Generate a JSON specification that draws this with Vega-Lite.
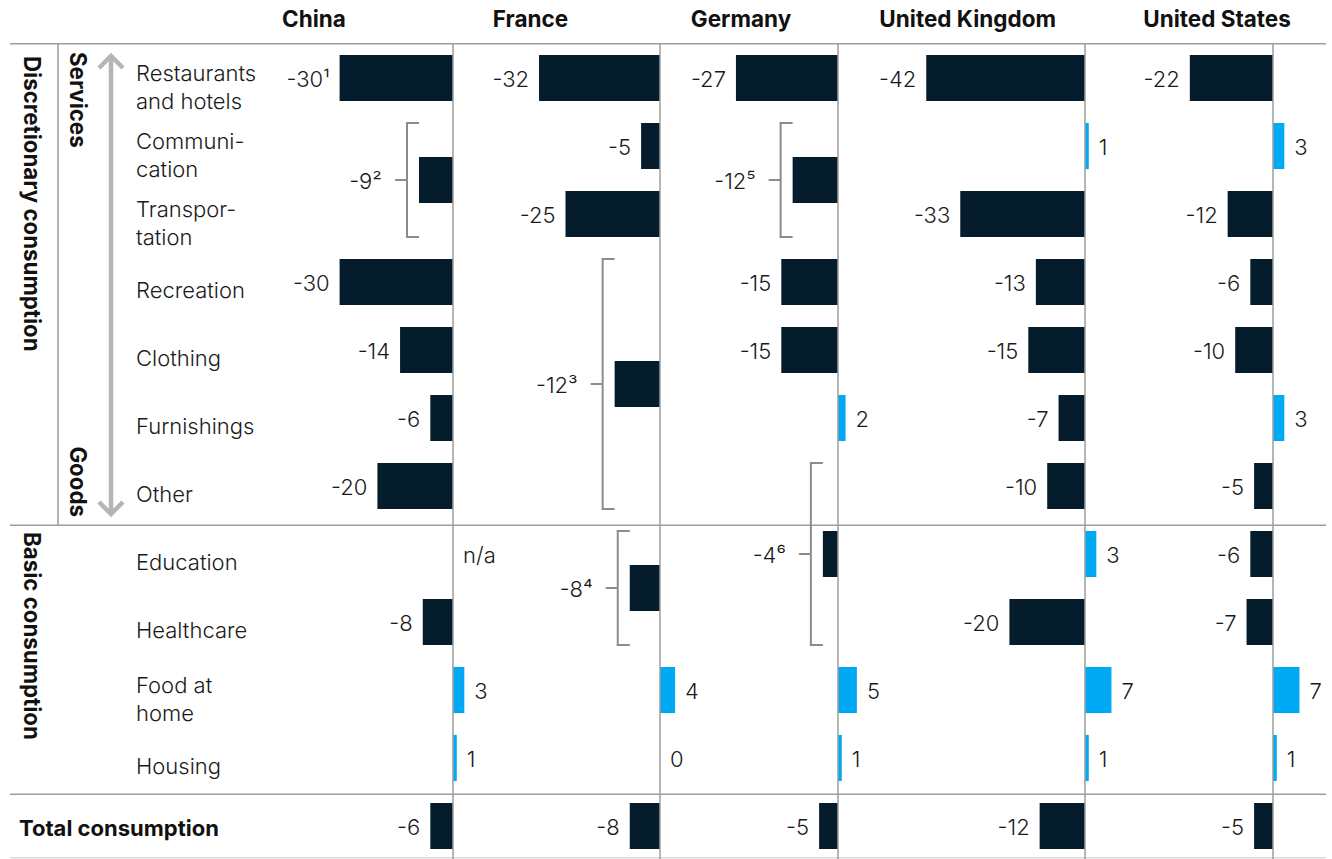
{
  "$schema": "https://vega.github.io/schema/vega-lite/v6.json",
  "padding": {"left": 9, "right": 7, "top": 0, "bottom": 0},
  "bounds": "flush",
  "spacing": 0,
  "config": {
    "view": {"stroke": null},
    "font": "Inter",
    "text": {"font": "Inter", "color": "#1a1a1a"}
  },
  "datasets": {
    "bars": [
      {"country": "China", "item": "Restaurants and hotels", "row": 0, "value": -30, "note": "¹"},
      {"country": "China", "item": "Communication and transportation", "row": 1.5, "from": 1, "to": 2, "value": -9, "note": "²"},
      {"country": "China", "item": "Recreation", "row": 3, "value": -30},
      {"country": "China", "item": "Clothing", "row": 4, "value": -14},
      {"country": "China", "item": "Furnishings", "row": 5, "value": -6},
      {"country": "China", "item": "Other", "row": 6, "value": -20},
      {"country": "China", "item": "Healthcare", "row": 8, "value": -8},
      {"country": "China", "item": "Food at home", "row": 9, "value": 3},
      {"country": "China", "item": "Housing", "row": 10, "value": 1},
      {"country": "China", "item": "Total consumption", "row": 11, "value": -6},

      {"country": "France", "item": "Restaurants and hotels", "row": 0, "value": -32},
      {"country": "France", "item": "Communication", "row": 1, "value": -5},
      {"country": "France", "item": "Transportation", "row": 2, "value": -25},
      {"country": "France", "item": "Recreation to other goods", "row": 4.5, "from": 3, "to": 6, "value": -12, "note": "³"},
      {"country": "France", "item": "Education", "row": 7, "value": null, "status": "n/a"},
      {"country": "France", "item": "Education and healthcare", "row": 7.5, "from": 7, "to": 8, "value": -8, "note": "⁴"},
      {"country": "France", "item": "Food at home", "row": 9, "value": 4},
      {"country": "France", "item": "Housing", "row": 10, "value": 0},
      {"country": "France", "item": "Total consumption", "row": 11, "value": -8},

      {"country": "Germany", "item": "Restaurants and hotels", "row": 0, "value": -27},
      {"country": "Germany", "item": "Communication and transportation", "row": 1.5, "from": 1, "to": 2, "value": -12, "note": "⁵"},
      {"country": "Germany", "item": "Recreation", "row": 3, "value": -15},
      {"country": "Germany", "item": "Clothing", "row": 4, "value": -15},
      {"country": "Germany", "item": "Furnishings", "row": 5, "value": 2},
      {"country": "Germany", "item": "Other, education and healthcare", "row": 7, "from": 6, "to": 8, "value": -4, "note": "⁶"},
      {"country": "Germany", "item": "Food at home", "row": 9, "value": 5},
      {"country": "Germany", "item": "Housing", "row": 10, "value": 1},
      {"country": "Germany", "item": "Total consumption", "row": 11, "value": -5},

      {"country": "United Kingdom", "item": "Restaurants and hotels", "row": 0, "value": -42},
      {"country": "United Kingdom", "item": "Communication", "row": 1, "value": 1},
      {"country": "United Kingdom", "item": "Transportation", "row": 2, "value": -33},
      {"country": "United Kingdom", "item": "Recreation", "row": 3, "value": -13},
      {"country": "United Kingdom", "item": "Clothing", "row": 4, "value": -15},
      {"country": "United Kingdom", "item": "Furnishings", "row": 5, "value": -7},
      {"country": "United Kingdom", "item": "Other", "row": 6, "value": -10},
      {"country": "United Kingdom", "item": "Education", "row": 7, "value": 3},
      {"country": "United Kingdom", "item": "Healthcare", "row": 8, "value": -20},
      {"country": "United Kingdom", "item": "Food at home", "row": 9, "value": 7},
      {"country": "United Kingdom", "item": "Housing", "row": 10, "value": 1},
      {"country": "United Kingdom", "item": "Total consumption", "row": 11, "value": -12},

      {"country": "United States", "item": "Restaurants and hotels", "row": 0, "value": -22},
      {"country": "United States", "item": "Communication", "row": 1, "value": 3},
      {"country": "United States", "item": "Transportation", "row": 2, "value": -12},
      {"country": "United States", "item": "Recreation", "row": 3, "value": -6},
      {"country": "United States", "item": "Clothing", "row": 4, "value": -10},
      {"country": "United States", "item": "Furnishings", "row": 5, "value": 3},
      {"country": "United States", "item": "Other", "row": 6, "value": -5},
      {"country": "United States", "item": "Education", "row": 7, "value": -6},
      {"country": "United States", "item": "Healthcare", "row": 8, "value": -7},
      {"country": "United States", "item": "Food at home", "row": 9, "value": 7},
      {"country": "United States", "item": "Housing", "row": 10, "value": 1},
      {"country": "United States", "item": "Total consumption", "row": 11, "value": -5}
    ],
    "categories": [
      {"row": 0, "label": "Restaurants\nand hotels", "lines": 2},
      {"row": 1, "label": "Communi-\ncation", "lines": 2},
      {"row": 2, "label": "Transpor-\ntation", "lines": 2},
      {"row": 3, "label": "Recreation", "lines": 1},
      {"row": 4, "label": "Clothing", "lines": 1},
      {"row": 5, "label": "Furnishings", "lines": 1},
      {"row": 6, "label": "Other", "lines": 1},
      {"row": 7, "label": "Education", "lines": 1},
      {"row": 8, "label": "Healthcare", "lines": 1},
      {"row": 9, "label": "Food at\nhome", "lines": 2},
      {"row": 10, "label": "Housing", "lines": 1},
      {"row": 11, "label": "Total consumption", "lines": 1}
    ],
    "sections": [
      {"label": "Discretionary consumption", "level": "group", "first": 0, "last": 6},
      {"label": "Basic consumption", "level": "group", "first": 7, "last": 10},
      {"label": "Services", "level": "kind", "first": 0, "last": 2},
      {"label": "Goods", "level": "kind", "first": 3, "last": 6}
    ],
    "seps": [
      {"pos": -0.504, "kind": "rule"},
      {"pos": 6.578, "kind": "rule"},
      {"pos": 10.534, "kind": "rule"},
      {"pos": 11.466, "kind": "base"}
    ],
    "countries": [
      {"country": "China"},
      {"country": "France"},
      {"country": "Germany"},
      {"country": "United Kingdom"},
      {"country": "United States"}
    ]
  },
  "hconcat": [
    {
      "width": 261,
      "height": 859,
      "layer": [
        {
          "data": {"name": "seps"},
          "mark": {"type": "rule", "strokeWidth": 1.5},
          "encoding": {
            "y": {"field": "pos", "type": "quantitative", "scale": {"domain": [-1.1471, 11.4853], "reverse": true, "nice": false, "zero": false, "padding": 0}, "axis": null},
            "color": {"field": "kind", "type": "nominal", "scale": {"domain": ["rule", "base"], "range": ["#9d9d9d", "#dcdcdc"]}, "legend": null}
          }
        },
        {
          "data": {"values": [{}]},
          "mark": {"type": "rule", "strokeWidth": 1.5, "color": "#9d9d9d"},
          "encoding": {
            "x": {"value": 48},
            "y": {"datum": -0.504, "type": "quantitative", "scale": {"domain": [-1.1471, 11.4853], "reverse": true, "nice": false, "zero": false, "padding": 0}, "axis": null},
            "y2": {"datum": 6.578}
          }
        },
        {
          "data": {"values": [{}]},
          "mark": {"type": "rule", "strokeWidth": 4.5, "color": "#b5b5b5"},
          "encoding": {
            "x": {"value": 101},
            "y": {"datum": -0.3, "type": "quantitative", "scale": {"domain": [-1.1471, 11.4853], "reverse": true, "nice": false, "zero": false, "padding": 0}, "axis": null},
            "y2": {"datum": 6.39}
          }
        },
        {
          "data": {"values": [{}]},
          "mark": {"type": "point", "shape": "M-1,1L0,0L1,1", "size": 576, "filled": false, "stroke": "#b5b5b5", "strokeWidth": 4.5, "opacity": 1},
          "encoding": {
            "x": {"value": 101},
            "y": {"datum": -0.3235, "type": "quantitative", "scale": {"domain": [-1.1471, 11.4853], "reverse": true, "nice": false, "zero": false, "padding": 0}, "axis": null}
          }
        },
        {
          "data": {"values": [{}]},
          "mark": {"type": "point", "shape": "M-1,-1L0,0L1,-1", "size": 576, "filled": false, "stroke": "#b5b5b5", "strokeWidth": 4.5, "opacity": 1},
          "encoding": {
            "x": {"value": 101},
            "y": {"datum": 6.412, "type": "quantitative", "scale": {"domain": [-1.1471, 11.4853], "reverse": true, "nice": false, "zero": false, "padding": 0}, "axis": null}
          }
        },
        {
          "data": {"name": "sections"},
          "transform": [{"filter": "datum.level === 'group'"}],
          "mark": {"type": "text", "angle": 90, "align": "left", "baseline": "middle", "dx": -22, "fontSize": 22.3, "fontWeight": 700, "color": "#111111"},
          "encoding": {
            "x": {"value": 21},
            "y": {"field": "first", "type": "quantitative", "scale": {"domain": [-1.1471, 11.4853], "reverse": true, "nice": false, "zero": false, "padding": 0}, "axis": null},
            "text": {"field": "label"}
          }
        },
        {
          "data": {"name": "sections"},
          "transform": [{"filter": "datum.label === 'Services'"}],
          "mark": {"type": "text", "angle": 90, "align": "left", "baseline": "middle", "dx": -26, "fontSize": 22.3, "fontWeight": 700, "color": "#111111"},
          "encoding": {
            "x": {"value": 67},
            "y": {"field": "first", "type": "quantitative", "scale": {"domain": [-1.1471, 11.4853], "reverse": true, "nice": false, "zero": false, "padding": 0}, "axis": null},
            "text": {"field": "label"}
          }
        },
        {
          "data": {"name": "sections"},
          "transform": [{"filter": "datum.label === 'Goods'"}],
          "mark": {"type": "text", "angle": 90, "align": "right", "baseline": "middle", "dx": 31, "fontSize": 22.3, "fontWeight": 700, "color": "#111111"},
          "encoding": {
            "x": {"value": 67},
            "y": {"field": "last", "type": "quantitative", "scale": {"domain": [-1.1471, 11.4853], "reverse": true, "nice": false, "zero": false, "padding": 0}, "axis": null},
            "text": {"field": "label"}
          }
        },
        {
          "data": {"name": "categories"},
          "transform": [{"filter": "datum.row < 11 && datum.lines === 1"}],
          "mark": {"type": "text", "align": "left", "baseline": "middle", "dy": 9, "fontSize": 22, "fontWeight": 300, "color": "#1a1a1a"},
          "encoding": {
            "x": {"value": 126},
            "y": {"field": "row", "type": "quantitative", "scale": {"domain": [-1.1471, 11.4853], "reverse": true, "nice": false, "zero": false, "padding": 0}, "axis": null},
            "text": {"field": "label"}
          }
        },
        {
          "data": {"name": "categories"},
          "transform": [{"filter": "datum.lines === 2"}],
          "mark": {"type": "text", "align": "left", "baseline": "middle", "dy": -4.5, "fontSize": 22, "fontWeight": 300, "lineHeight": 28, "lineBreak": "\n", "color": "#1a1a1a"},
          "encoding": {
            "x": {"value": 126},
            "y": {"field": "row", "type": "quantitative", "scale": {"domain": [-1.1471, 11.4853], "reverse": true, "nice": false, "zero": false, "padding": 0}, "axis": null},
            "text": {"field": "label"}
          }
        },
        {
          "data": {"name": "categories"},
          "transform": [{"filter": "datum.row === 11"}],
          "mark": {"type": "text", "align": "left", "baseline": "middle", "dy": 3, "fontSize": 22, "fontWeight": 700, "color": "#111111"},
          "encoding": {
            "x": {"value": 9},
            "y": {"field": "row", "type": "quantitative", "scale": {"domain": [-1.1471, 11.4853], "reverse": true, "nice": false, "zero": false, "padding": 0}, "axis": null},
            "text": {"field": "label"}
          }
        }
      ]
    },
    {
      "width": 190,
      "height": 859,
      "layer": [
        {"data": {"name": "seps"}, "mark": {"type": "rule", "strokeWidth": 1.5},
         "encoding": {"y": {"field": "pos", "type": "quantitative", "scale": {"domain": [-1.1471, 11.4853], "reverse": true, "nice": false, "zero": false, "padding": 0}, "axis": null},
                      "color": {"field": "kind", "type": "nominal", "scale": {"domain": ["rule", "base"], "range": ["#9d9d9d", "#dcdcdc"]}, "legend": null}}},
        {"data": {"name": "bars"}, "transform": [{"filter": "datum.country === 'China' && isValid(datum.value)"}],
         "mark": {"type": "bar", "orient": "horizontal", "size": 46},
         "encoding": {"x": {"field": "value", "type": "quantitative", "stack": null, "scale": {"domain": [-48.148, 2.116], "nice": false, "zero": false, "padding": 0}, "axis": null},
                      "y": {"field": "row", "type": "quantitative", "scale": {"domain": [-1.1471, 11.4853], "reverse": true, "nice": false, "zero": false, "padding": 0}, "axis": null},
                      "color": {"condition": {"test": "datum.value > 0", "value": "#00a9f4"}, "value": "#051c2c"}}},
        {"data": {"values": [{}]}, "mark": {"type": "rule", "strokeWidth": 1.5, "color": "#9d9d9d"},
         "encoding": {"x": {"datum": 0, "type": "quantitative", "scale": {"domain": [-48.148, 2.116], "nice": false, "zero": false, "padding": 0}, "axis": null},
                      "y": {"datum": -0.504, "type": "quantitative", "scale": {"domain": [-1.1471, 11.4853], "reverse": true, "nice": false, "zero": false, "padding": 0}, "axis": null},
                      "y2": {"datum": 11.4853}}},
        {"data": {"name": "bars"}, "transform": [{"filter": "datum.country === 'China' && isValid(datum.value) && datum.value < 0 && !isValid(datum.from)"}, {"calculate": "datum.value + (isValid(datum.note) ? datum.note : '')", "as": "label"}],
         "mark": {"type": "text", "align": "right", "baseline": "middle", "dx": -10, "dy": 2, "fontSize": 22, "fontWeight": 300},
         "encoding": {"x": {"field": "value", "type": "quantitative", "scale": {"domain": [-48.148, 2.116], "nice": false, "zero": false, "padding": 0}, "axis": null},
                      "y": {"field": "row", "type": "quantitative", "scale": {"domain": [-1.1471, 11.4853], "reverse": true, "nice": false, "zero": false, "padding": 0}, "axis": null},
                      "text": {"field": "label"}}},
        {"data": {"name": "bars"}, "transform": [{"filter": "datum.country === 'China' && isValid(datum.value) && datum.value >= 0"}, {"calculate": "datum.value + (isValid(datum.note) ? datum.note : '')", "as": "label"}],
         "mark": {"type": "text", "align": "left", "baseline": "middle", "dx": 10, "dy": 2, "fontSize": 22, "fontWeight": 300},
         "encoding": {"x": {"field": "value", "type": "quantitative", "scale": {"domain": [-48.148, 2.116], "nice": false, "zero": false, "padding": 0}, "axis": null},
                      "y": {"field": "row", "type": "quantitative", "scale": {"domain": [-1.1471, 11.4853], "reverse": true, "nice": false, "zero": false, "padding": 0}, "axis": null},
                      "text": {"field": "label"}}},
        {"data": {"name": "bars"}, "transform": [{"filter": "datum.country === 'China' && isValid(datum.from)"}, {"calculate": "datum.value + (isValid(datum.note) ? datum.note : '')", "as": "label"}],
         "mark": {"type": "text", "align": "right", "baseline": "middle", "dx": -37, "dy": 2, "fontSize": 22, "fontWeight": 300},
         "encoding": {"x": {"field": "value", "type": "quantitative", "scale": {"domain": [-48.148, 2.116], "nice": false, "zero": false, "padding": 0}, "axis": null},
                      "y": {"field": "row", "type": "quantitative", "scale": {"domain": [-1.1471, 11.4853], "reverse": true, "nice": false, "zero": false, "padding": 0}, "axis": null},
                      "text": {"field": "label"}}},
        {"data": {"name": "bars"}, "transform": [{"filter": "datum.country === 'China' && isValid(datum.from)"}],
         "mark": {"type": "rule", "strokeWidth": 2, "color": "#8c8c8c", "xOffset": -12, "yOffset": -23, "y2Offset": 23},
         "encoding": {"x": {"field": "value", "type": "quantitative", "scale": {"domain": [-48.148, 2.116], "nice": false, "zero": false, "padding": 0}, "axis": null},
                      "y": {"field": "from", "type": "quantitative", "scale": {"domain": [-1.1471, 11.4853], "reverse": true, "nice": false, "zero": false, "padding": 0}, "axis": null},
                      "y2": {"field": "to"}}},
        {"data": {"name": "bars"}, "transform": [{"filter": "datum.country === 'China' && isValid(datum.from)"}],
         "mark": {"type": "rule", "strokeWidth": 2, "color": "#8c8c8c", "xOffset": -13, "x2Offset": 0, "yOffset": -23},
         "encoding": {"x": {"field": "value", "type": "quantitative", "scale": {"domain": [-48.148, 2.116], "nice": false, "zero": false, "padding": 0}, "axis": null},
                      "x2": {"field": "value"},
                      "y": {"field": "from", "type": "quantitative", "scale": {"domain": [-1.1471, 11.4853], "reverse": true, "nice": false, "zero": false, "padding": 0}, "axis": null}}},
        {"data": {"name": "bars"}, "transform": [{"filter": "datum.country === 'China' && isValid(datum.from)"}],
         "mark": {"type": "rule", "strokeWidth": 2, "color": "#8c8c8c", "xOffset": -13, "x2Offset": 0, "yOffset": 23},
         "encoding": {"x": {"field": "value", "type": "quantitative", "scale": {"domain": [-48.148, 2.116], "nice": false, "zero": false, "padding": 0}, "axis": null},
                      "x2": {"field": "value"},
                      "y": {"field": "to", "type": "quantitative", "scale": {"domain": [-1.1471, 11.4853], "reverse": true, "nice": false, "zero": false, "padding": 0}, "axis": null}}},
        {"data": {"name": "bars"}, "transform": [{"filter": "datum.country === 'China' && isValid(datum.from)"}],
         "mark": {"type": "rule", "strokeWidth": 2, "color": "#8c8c8c", "xOffset": -24, "x2Offset": -12},
         "encoding": {"x": {"field": "value", "type": "quantitative", "scale": {"domain": [-48.148, 2.116], "nice": false, "zero": false, "padding": 0}, "axis": null},
                      "x2": {"field": "value"},
                      "y": {"field": "row", "type": "quantitative", "scale": {"domain": [-1.1471, 11.4853], "reverse": true, "nice": false, "zero": false, "padding": 0}, "axis": null}}},
        {"data": {"name": "countries"}, "transform": [{"filter": "datum.country === 'China'"}],
         "mark": {"type": "text", "align": "center", "baseline": "middle", "fontSize": 22.5, "fontWeight": 700, "color": "#111111"},
         "encoding": {"x": {"datum": -36.77, "type": "quantitative", "scale": {"domain": [-48.148, 2.116], "nice": false, "zero": false, "padding": 0}, "axis": null},
                      "y": {"datum": -0.846, "type": "quantitative", "scale": {"domain": [-1.1471, 11.4853], "reverse": true, "nice": false, "zero": false, "padding": 0}, "axis": null},
                      "text": {"field": "country"}}}
      ]
    },
    {
      "width": 220,
      "height": 859,
      "layer": [
        {"data": {"name": "seps"}, "mark": {"type": "rule", "strokeWidth": 1.5},
         "encoding": {"y": {"field": "pos", "type": "quantitative", "scale": {"domain": [-1.1471, 11.4853], "reverse": true, "nice": false, "zero": false, "padding": 0}, "axis": null},
                      "color": {"field": "kind", "type": "nominal", "scale": {"domain": ["rule", "base"], "range": ["#9d9d9d", "#dcdcdc"]}, "legend": null}}},
        {"data": {"name": "bars"}, "transform": [{"filter": "datum.country === 'France' && isValid(datum.value)"}],
         "mark": {"type": "bar", "orient": "horizontal", "size": 46},
         "encoding": {"x": {"field": "value", "type": "quantitative", "stack": null, "scale": {"domain": [-52.646, 5.556], "nice": false, "zero": false, "padding": 0}, "axis": null},
                      "y": {"field": "row", "type": "quantitative", "scale": {"domain": [-1.1471, 11.4853], "reverse": true, "nice": false, "zero": false, "padding": 0}, "axis": null},
                      "color": {"condition": {"test": "datum.value > 0", "value": "#00a9f4"}, "value": "#051c2c"}}},
        {"data": {"values": [{}]}, "mark": {"type": "rule", "strokeWidth": 1.5, "color": "#9d9d9d"},
         "encoding": {"x": {"datum": 0, "type": "quantitative", "scale": {"domain": [-52.646, 5.556], "nice": false, "zero": false, "padding": 0}, "axis": null},
                      "y": {"datum": -0.504, "type": "quantitative", "scale": {"domain": [-1.1471, 11.4853], "reverse": true, "nice": false, "zero": false, "padding": 0}, "axis": null},
                      "y2": {"datum": 11.4853}}},
        {"data": {"name": "bars"}, "transform": [{"filter": "datum.country === 'France' && isValid(datum.value) && datum.value < 0 && !isValid(datum.from)"}, {"calculate": "datum.value + (isValid(datum.note) ? datum.note : '')", "as": "label"}],
         "mark": {"type": "text", "align": "right", "baseline": "middle", "dx": -10, "dy": 2, "fontSize": 22, "fontWeight": 300},
         "encoding": {"x": {"field": "value", "type": "quantitative", "scale": {"domain": [-52.646, 5.556], "nice": false, "zero": false, "padding": 0}, "axis": null},
                      "y": {"field": "row", "type": "quantitative", "scale": {"domain": [-1.1471, 11.4853], "reverse": true, "nice": false, "zero": false, "padding": 0}, "axis": null},
                      "text": {"field": "label"}}},
        {"data": {"name": "bars"}, "transform": [{"filter": "datum.country === 'France' && isValid(datum.value) && datum.value >= 0"}, {"calculate": "datum.value + (isValid(datum.note) ? datum.note : '')", "as": "label"}],
         "mark": {"type": "text", "align": "left", "baseline": "middle", "dx": 10, "dy": 2, "fontSize": 22, "fontWeight": 300},
         "encoding": {"x": {"field": "value", "type": "quantitative", "scale": {"domain": [-52.646, 5.556], "nice": false, "zero": false, "padding": 0}, "axis": null},
                      "y": {"field": "row", "type": "quantitative", "scale": {"domain": [-1.1471, 11.4853], "reverse": true, "nice": false, "zero": false, "padding": 0}, "axis": null},
                      "text": {"field": "label"}}},
        {"data": {"name": "bars"}, "transform": [{"filter": "datum.country === 'France' && isValid(datum.from)"}, {"calculate": "datum.value + (isValid(datum.note) ? datum.note : '')", "as": "label"}],
         "mark": {"type": "text", "align": "right", "baseline": "middle", "dx": -37, "dy": 2, "fontSize": 22, "fontWeight": 300},
         "encoding": {"x": {"field": "value", "type": "quantitative", "scale": {"domain": [-52.646, 5.556], "nice": false, "zero": false, "padding": 0}, "axis": null},
                      "y": {"field": "row", "type": "quantitative", "scale": {"domain": [-1.1471, 11.4853], "reverse": true, "nice": false, "zero": false, "padding": 0}, "axis": null},
                      "text": {"field": "label"}}},
        {"data": {"name": "bars"}, "transform": [{"filter": "datum.country === 'France' && isValid(datum.from)"}],
         "mark": {"type": "rule", "strokeWidth": 2, "color": "#8c8c8c", "xOffset": -12, "yOffset": -23, "y2Offset": 23},
         "encoding": {"x": {"field": "value", "type": "quantitative", "scale": {"domain": [-52.646, 5.556], "nice": false, "zero": false, "padding": 0}, "axis": null},
                      "y": {"field": "from", "type": "quantitative", "scale": {"domain": [-1.1471, 11.4853], "reverse": true, "nice": false, "zero": false, "padding": 0}, "axis": null},
                      "y2": {"field": "to"}}},
        {"data": {"name": "bars"}, "transform": [{"filter": "datum.country === 'France' && isValid(datum.from)"}],
         "mark": {"type": "rule", "strokeWidth": 2, "color": "#8c8c8c", "xOffset": -13, "x2Offset": 0, "yOffset": -23},
         "encoding": {"x": {"field": "value", "type": "quantitative", "scale": {"domain": [-52.646, 5.556], "nice": false, "zero": false, "padding": 0}, "axis": null},
                      "x2": {"field": "value"},
                      "y": {"field": "from", "type": "quantitative", "scale": {"domain": [-1.1471, 11.4853], "reverse": true, "nice": false, "zero": false, "padding": 0}, "axis": null}}},
        {"data": {"name": "bars"}, "transform": [{"filter": "datum.country === 'France' && isValid(datum.from)"}],
         "mark": {"type": "rule", "strokeWidth": 2, "color": "#8c8c8c", "xOffset": -13, "x2Offset": 0, "yOffset": 23},
         "encoding": {"x": {"field": "value", "type": "quantitative", "scale": {"domain": [-52.646, 5.556], "nice": false, "zero": false, "padding": 0}, "axis": null},
                      "x2": {"field": "value"},
                      "y": {"field": "to", "type": "quantitative", "scale": {"domain": [-1.1471, 11.4853], "reverse": true, "nice": false, "zero": false, "padding": 0}, "axis": null}}},
        {"data": {"name": "bars"}, "transform": [{"filter": "datum.country === 'France' && isValid(datum.from)"}],
         "mark": {"type": "rule", "strokeWidth": 2, "color": "#8c8c8c", "xOffset": -24, "x2Offset": -12},
         "encoding": {"x": {"field": "value", "type": "quantitative", "scale": {"domain": [-52.646, 5.556], "nice": false, "zero": false, "padding": 0}, "axis": null},
                      "x2": {"field": "value"},
                      "y": {"field": "row", "type": "quantitative", "scale": {"domain": [-1.1471, 11.4853], "reverse": true, "nice": false, "zero": false, "padding": 0}, "axis": null}}},
        {"data": {"name": "bars"}, "transform": [{"filter": "datum.country === 'France' && isValid(datum.status)"}],
         "mark": {"type": "text", "align": "left", "baseline": "middle", "dy": 2, "fontSize": 22, "fontWeight": 300},
         "encoding": {"x": {"datum": -52.1, "type": "quantitative", "scale": {"domain": [-52.646, 5.556], "nice": false, "zero": false, "padding": 0}, "axis": null},
                      "y": {"field": "row", "type": "quantitative", "scale": {"domain": [-1.1471, 11.4853], "reverse": true, "nice": false, "zero": false, "padding": 0}, "axis": null},
                      "text": {"field": "status"}}},
        {"data": {"name": "countries"}, "transform": [{"filter": "datum.country === 'France'"}],
         "mark": {"type": "text", "align": "center", "baseline": "middle", "fontSize": 22.5, "fontWeight": 700, "color": "#111111"},
         "encoding": {"x": {"datum": -34.26, "type": "quantitative", "scale": {"domain": [-52.646, 5.556], "nice": false, "zero": false, "padding": 0}, "axis": null},
                      "y": {"datum": -0.846, "type": "quantitative", "scale": {"domain": [-1.1471, 11.4853], "reverse": true, "nice": false, "zero": false, "padding": 0}, "axis": null},
                      "text": {"field": "country"}}}
      ]
    },
    {
      "width": 180,
      "height": 859,
      "layer": [
        {"data": {"name": "seps"}, "mark": {"type": "rule", "strokeWidth": 1.5},
         "encoding": {"y": {"field": "pos", "type": "quantitative", "scale": {"domain": [-1.1471, 11.4853], "reverse": true, "nice": false, "zero": false, "padding": 0}, "axis": null},
                      "color": {"field": "kind", "type": "nominal", "scale": {"domain": ["rule", "base"], "range": ["#9d9d9d", "#dcdcdc"]}, "legend": null}}},
        {"data": {"name": "bars"}, "transform": [{"filter": "datum.country === 'Germany' && isValid(datum.value)"}],
         "mark": {"type": "bar", "orient": "horizontal", "size": 46},
         "encoding": {"x": {"field": "value", "type": "quantitative", "stack": null, "scale": {"domain": [-41.534, 6.085], "nice": false, "zero": false, "padding": 0}, "axis": null},
                      "y": {"field": "row", "type": "quantitative", "scale": {"domain": [-1.1471, 11.4853], "reverse": true, "nice": false, "zero": false, "padding": 0}, "axis": null},
                      "color": {"condition": {"test": "datum.value > 0", "value": "#00a9f4"}, "value": "#051c2c"}}},
        {"data": {"values": [{}]}, "mark": {"type": "rule", "strokeWidth": 1.5, "color": "#9d9d9d"},
         "encoding": {"x": {"datum": 0, "type": "quantitative", "scale": {"domain": [-41.534, 6.085], "nice": false, "zero": false, "padding": 0}, "axis": null},
                      "y": {"datum": -0.504, "type": "quantitative", "scale": {"domain": [-1.1471, 11.4853], "reverse": true, "nice": false, "zero": false, "padding": 0}, "axis": null},
                      "y2": {"datum": 11.4853}}},
        {"data": {"name": "bars"}, "transform": [{"filter": "datum.country === 'Germany' && isValid(datum.value) && datum.value < 0 && !isValid(datum.from)"}, {"calculate": "datum.value + (isValid(datum.note) ? datum.note : '')", "as": "label"}],
         "mark": {"type": "text", "align": "right", "baseline": "middle", "dx": -10, "dy": 2, "fontSize": 22, "fontWeight": 300},
         "encoding": {"x": {"field": "value", "type": "quantitative", "scale": {"domain": [-41.534, 6.085], "nice": false, "zero": false, "padding": 0}, "axis": null},
                      "y": {"field": "row", "type": "quantitative", "scale": {"domain": [-1.1471, 11.4853], "reverse": true, "nice": false, "zero": false, "padding": 0}, "axis": null},
                      "text": {"field": "label"}}},
        {"data": {"name": "bars"}, "transform": [{"filter": "datum.country === 'Germany' && isValid(datum.value) && datum.value >= 0"}, {"calculate": "datum.value + (isValid(datum.note) ? datum.note : '')", "as": "label"}],
         "mark": {"type": "text", "align": "left", "baseline": "middle", "dx": 10, "dy": 2, "fontSize": 22, "fontWeight": 300},
         "encoding": {"x": {"field": "value", "type": "quantitative", "scale": {"domain": [-41.534, 6.085], "nice": false, "zero": false, "padding": 0}, "axis": null},
                      "y": {"field": "row", "type": "quantitative", "scale": {"domain": [-1.1471, 11.4853], "reverse": true, "nice": false, "zero": false, "padding": 0}, "axis": null},
                      "text": {"field": "label"}}},
        {"data": {"name": "bars"}, "transform": [{"filter": "datum.country === 'Germany' && isValid(datum.from)"}, {"calculate": "datum.value + (isValid(datum.note) ? datum.note : '')", "as": "label"}],
         "mark": {"type": "text", "align": "right", "baseline": "middle", "dx": -37, "dy": 2, "fontSize": 22, "fontWeight": 300},
         "encoding": {"x": {"field": "value", "type": "quantitative", "scale": {"domain": [-41.534, 6.085], "nice": false, "zero": false, "padding": 0}, "axis": null},
                      "y": {"field": "row", "type": "quantitative", "scale": {"domain": [-1.1471, 11.4853], "reverse": true, "nice": false, "zero": false, "padding": 0}, "axis": null},
                      "text": {"field": "label"}}},
        {"data": {"name": "bars"}, "transform": [{"filter": "datum.country === 'Germany' && isValid(datum.from)"}],
         "mark": {"type": "rule", "strokeWidth": 2, "color": "#8c8c8c", "xOffset": -12, "yOffset": -23, "y2Offset": 23},
         "encoding": {"x": {"field": "value", "type": "quantitative", "scale": {"domain": [-41.534, 6.085], "nice": false, "zero": false, "padding": 0}, "axis": null},
                      "y": {"field": "from", "type": "quantitative", "scale": {"domain": [-1.1471, 11.4853], "reverse": true, "nice": false, "zero": false, "padding": 0}, "axis": null},
                      "y2": {"field": "to"}}},
        {"data": {"name": "bars"}, "transform": [{"filter": "datum.country === 'Germany' && isValid(datum.from)"}],
         "mark": {"type": "rule", "strokeWidth": 2, "color": "#8c8c8c", "xOffset": -13, "x2Offset": 0, "yOffset": -23},
         "encoding": {"x": {"field": "value", "type": "quantitative", "scale": {"domain": [-41.534, 6.085], "nice": false, "zero": false, "padding": 0}, "axis": null},
                      "x2": {"field": "value"},
                      "y": {"field": "from", "type": "quantitative", "scale": {"domain": [-1.1471, 11.4853], "reverse": true, "nice": false, "zero": false, "padding": 0}, "axis": null}}},
        {"data": {"name": "bars"}, "transform": [{"filter": "datum.country === 'Germany' && isValid(datum.from)"}],
         "mark": {"type": "rule", "strokeWidth": 2, "color": "#8c8c8c", "xOffset": -13, "x2Offset": 0, "yOffset": 23},
         "encoding": {"x": {"field": "value", "type": "quantitative", "scale": {"domain": [-41.534, 6.085], "nice": false, "zero": false, "padding": 0}, "axis": null},
                      "x2": {"field": "value"},
                      "y": {"field": "to", "type": "quantitative", "scale": {"domain": [-1.1471, 11.4853], "reverse": true, "nice": false, "zero": false, "padding": 0}, "axis": null}}},
        {"data": {"name": "bars"}, "transform": [{"filter": "datum.country === 'Germany' && isValid(datum.from)"}],
         "mark": {"type": "rule", "strokeWidth": 2, "color": "#8c8c8c", "xOffset": -24, "x2Offset": -12},
         "encoding": {"x": {"field": "value", "type": "quantitative", "scale": {"domain": [-41.534, 6.085], "nice": false, "zero": false, "padding": 0}, "axis": null},
                      "x2": {"field": "value"},
                      "y": {"field": "row", "type": "quantitative", "scale": {"domain": [-1.1471, 11.4853], "reverse": true, "nice": false, "zero": false, "padding": 0}, "axis": null}}},
        {"data": {"name": "countries"}, "transform": [{"filter": "datum.country === 'Germany'"}],
         "mark": {"type": "text", "align": "center", "baseline": "middle", "fontSize": 22.5, "fontWeight": 700, "color": "#111111"},
         "encoding": {"x": {"datum": -25.66, "type": "quantitative", "scale": {"domain": [-41.534, 6.085], "nice": false, "zero": false, "padding": 0}, "axis": null},
                      "y": {"datum": -0.846, "type": "quantitative", "scale": {"domain": [-1.1471, 11.4853], "reverse": true, "nice": false, "zero": false, "padding": 0}, "axis": null},
                      "text": {"field": "country"}}}
      ]
    },
    {
      "width": 270,
      "height": 859,
      "layer": [
        {"data": {"name": "seps"}, "mark": {"type": "rule", "strokeWidth": 1.5},
         "encoding": {"y": {"field": "pos", "type": "quantitative", "scale": {"domain": [-1.1471, 11.4853], "reverse": true, "nice": false, "zero": false, "padding": 0}, "axis": null},
                      "color": {"field": "kind", "type": "nominal", "scale": {"domain": ["rule", "base"], "range": ["#9d9d9d", "#dcdcdc"]}, "legend": null}}},
        {"data": {"name": "bars"}, "transform": [{"filter": "datum.country === 'United Kingdom' && isValid(datum.value)"}],
         "mark": {"type": "bar", "orient": "horizontal", "size": 46},
         "encoding": {"x": {"field": "value", "type": "quantitative", "stack": null, "scale": {"domain": [-59.259, 12.169], "nice": false, "zero": false, "padding": 0}, "axis": null},
                      "y": {"field": "row", "type": "quantitative", "scale": {"domain": [-1.1471, 11.4853], "reverse": true, "nice": false, "zero": false, "padding": 0}, "axis": null},
                      "color": {"condition": {"test": "datum.value > 0", "value": "#00a9f4"}, "value": "#051c2c"}}},
        {"data": {"values": [{}]}, "mark": {"type": "rule", "strokeWidth": 1.5, "color": "#9d9d9d"},
         "encoding": {"x": {"datum": 0, "type": "quantitative", "scale": {"domain": [-59.259, 12.169], "nice": false, "zero": false, "padding": 0}, "axis": null},
                      "y": {"datum": -0.504, "type": "quantitative", "scale": {"domain": [-1.1471, 11.4853], "reverse": true, "nice": false, "zero": false, "padding": 0}, "axis": null},
                      "y2": {"datum": 11.4853}}},
        {"data": {"name": "bars"}, "transform": [{"filter": "datum.country === 'United Kingdom' && isValid(datum.value) && datum.value < 0"}, {"calculate": "datum.value + (isValid(datum.note) ? datum.note : '')", "as": "label"}],
         "mark": {"type": "text", "align": "right", "baseline": "middle", "dx": -10, "dy": 2, "fontSize": 22, "fontWeight": 300},
         "encoding": {"x": {"field": "value", "type": "quantitative", "scale": {"domain": [-59.259, 12.169], "nice": false, "zero": false, "padding": 0}, "axis": null},
                      "y": {"field": "row", "type": "quantitative", "scale": {"domain": [-1.1471, 11.4853], "reverse": true, "nice": false, "zero": false, "padding": 0}, "axis": null},
                      "text": {"field": "label"}}},
        {"data": {"name": "bars"}, "transform": [{"filter": "datum.country === 'United Kingdom' && isValid(datum.value) && datum.value >= 0"}, {"calculate": "datum.value + (isValid(datum.note) ? datum.note : '')", "as": "label"}],
         "mark": {"type": "text", "align": "left", "baseline": "middle", "dx": 10, "dy": 2, "fontSize": 22, "fontWeight": 300},
         "encoding": {"x": {"field": "value", "type": "quantitative", "scale": {"domain": [-59.259, 12.169], "nice": false, "zero": false, "padding": 0}, "axis": null},
                      "y": {"field": "row", "type": "quantitative", "scale": {"domain": [-1.1471, 11.4853], "reverse": true, "nice": false, "zero": false, "padding": 0}, "axis": null},
                      "text": {"field": "label"}}},
        {"data": {"name": "countries"}, "transform": [{"filter": "datum.country === 'United Kingdom'"}],
         "mark": {"type": "text", "align": "center", "baseline": "middle", "fontSize": 22.5, "fontWeight": 700, "color": "#111111"},
         "encoding": {"x": {"datum": -31.03, "type": "quantitative", "scale": {"domain": [-59.259, 12.169], "nice": false, "zero": false, "padding": 0}, "axis": null},
                      "y": {"datum": -0.846, "type": "quantitative", "scale": {"domain": [-1.1471, 11.4853], "reverse": true, "nice": false, "zero": false, "padding": 0}, "axis": null},
                      "text": {"field": "country"}}}
      ]
    },
    {
      "width": 195,
      "height": 859,
      "layer": [
        {"data": {"name": "seps"}, "mark": {"type": "rule", "strokeWidth": 1.5},
         "encoding": {"y": {"field": "pos", "type": "quantitative", "scale": {"domain": [-1.1471, 11.4853], "reverse": true, "nice": false, "zero": false, "padding": 0}, "axis": null},
                      "color": {"field": "kind", "type": "nominal", "scale": {"domain": ["rule", "base"], "range": ["#9d9d9d", "#dcdcdc"]}, "legend": null}}},
        {"data": {"name": "bars"}, "transform": [{"filter": "datum.country === 'United States' && isValid(datum.value)"}],
         "mark": {"type": "bar", "orient": "horizontal", "size": 46},
         "encoding": {"x": {"field": "value", "type": "quantitative", "stack": null, "scale": {"domain": [-37.566, 14.021], "nice": false, "zero": false, "padding": 0}, "axis": null},
                      "y": {"field": "row", "type": "quantitative", "scale": {"domain": [-1.1471, 11.4853], "reverse": true, "nice": false, "zero": false, "padding": 0}, "axis": null},
                      "color": {"condition": {"test": "datum.value > 0", "value": "#00a9f4"}, "value": "#051c2c"}}},
        {"data": {"values": [{}]}, "mark": {"type": "rule", "strokeWidth": 1.5, "color": "#9d9d9d"},
         "encoding": {"x": {"datum": 0, "type": "quantitative", "scale": {"domain": [-37.566, 14.021], "nice": false, "zero": false, "padding": 0}, "axis": null},
                      "y": {"datum": -0.504, "type": "quantitative", "scale": {"domain": [-1.1471, 11.4853], "reverse": true, "nice": false, "zero": false, "padding": 0}, "axis": null},
                      "y2": {"datum": 11.4853}}},
        {"data": {"name": "bars"}, "transform": [{"filter": "datum.country === 'United States' && isValid(datum.value) && datum.value < 0"}, {"calculate": "datum.value + (isValid(datum.note) ? datum.note : '')", "as": "label"}],
         "mark": {"type": "text", "align": "right", "baseline": "middle", "dx": -10, "dy": 2, "fontSize": 22, "fontWeight": 300},
         "encoding": {"x": {"field": "value", "type": "quantitative", "scale": {"domain": [-37.566, 14.021], "nice": false, "zero": false, "padding": 0}, "axis": null},
                      "y": {"field": "row", "type": "quantitative", "scale": {"domain": [-1.1471, 11.4853], "reverse": true, "nice": false, "zero": false, "padding": 0}, "axis": null},
                      "text": {"field": "label"}}},
        {"data": {"name": "bars"}, "transform": [{"filter": "datum.country === 'United States' && isValid(datum.value) && datum.value >= 0"}, {"calculate": "datum.value + (isValid(datum.note) ? datum.note : '')", "as": "label"}],
         "mark": {"type": "text", "align": "left", "baseline": "middle", "dx": 10, "dy": 2, "fontSize": 22, "fontWeight": 300},
         "encoding": {"x": {"field": "value", "type": "quantitative", "scale": {"domain": [-37.566, 14.021], "nice": false, "zero": false, "padding": 0}, "axis": null},
                      "y": {"field": "row", "type": "quantitative", "scale": {"domain": [-1.1471, 11.4853], "reverse": true, "nice": false, "zero": false, "padding": 0}, "axis": null},
                      "text": {"field": "label"}}},
        {"data": {"name": "countries"}, "transform": [{"filter": "datum.country === 'United States'"}],
         "mark": {"type": "text", "align": "center", "baseline": "middle", "fontSize": 22.5, "fontWeight": 700, "color": "#111111"},
         "encoding": {"x": {"datum": -14.81, "type": "quantitative", "scale": {"domain": [-37.566, 14.021], "nice": false, "zero": false, "padding": 0}, "axis": null},
                      "y": {"datum": -0.846, "type": "quantitative", "scale": {"domain": [-1.1471, 11.4853], "reverse": true, "nice": false, "zero": false, "padding": 0}, "axis": null},
                      "text": {"field": "country"}}}
      ]
    }
  ]
}
